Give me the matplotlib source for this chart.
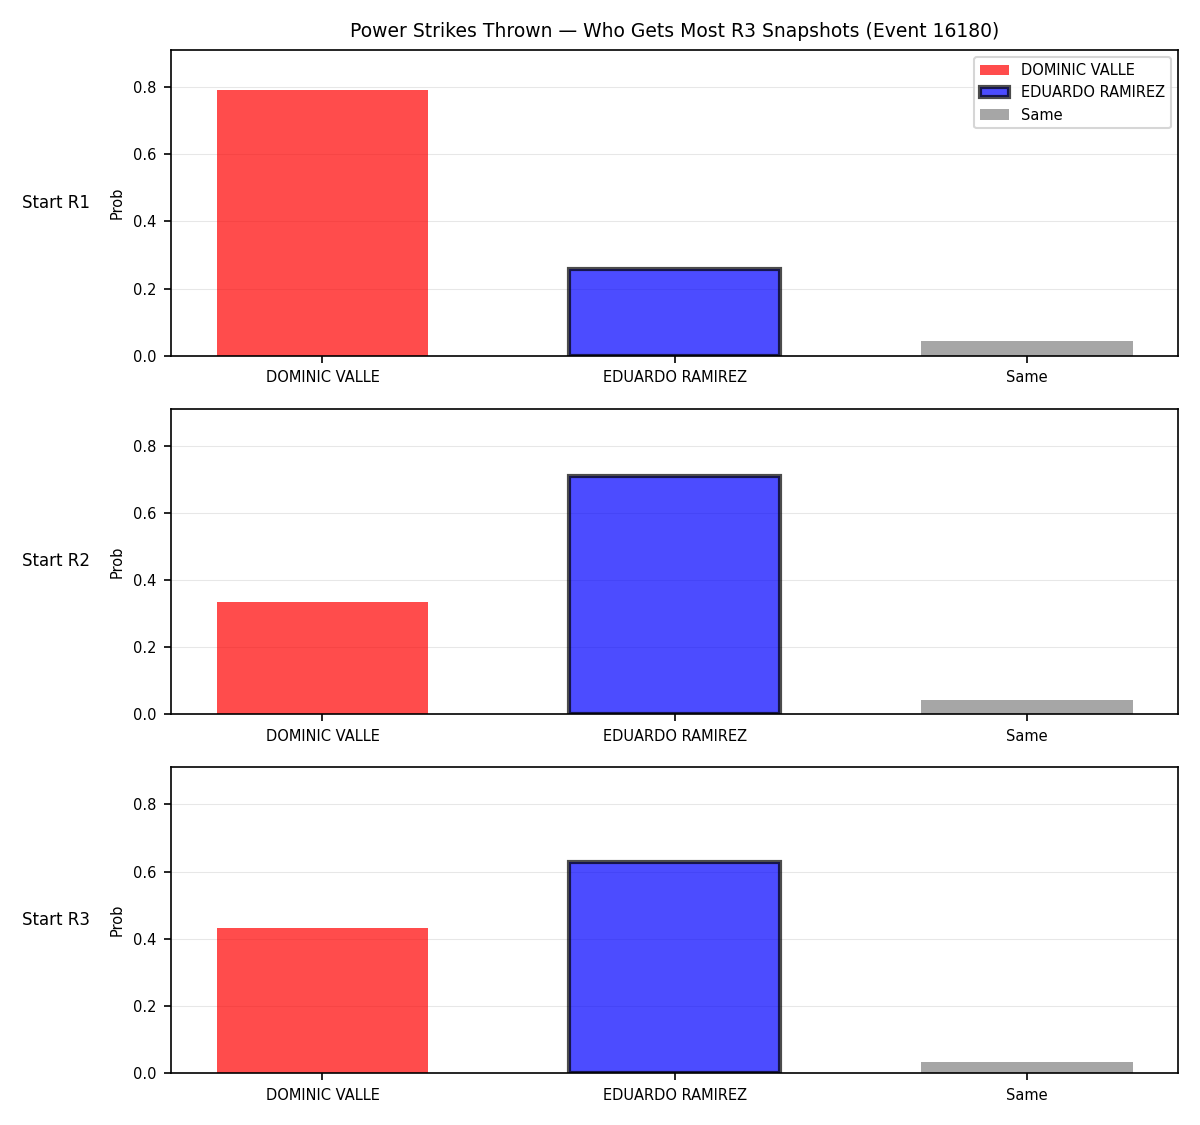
import numpy as np
import matplotlib
matplotlib.use("Agg")
import matplotlib.pyplot as plt

categories = ["DOMINIC VALLE", "EDUARDO RAMIREZ", "Same"]
row_labels = ["Start R1", "Start R2", "Start R3"]
dominic = [0.792, 0.336, 0.432]
eduardo = [0.259, 0.711, 0.630]
same = [0.044, 0.044, 0.034]

colors = ["red", "blue", "gray"]
y_top = max(max(dominic), max(eduardo), max(same)) * 1.15

fig, axes = plt.subplots(3, 1, figsize=(8, 7.5), dpi=150)
fig.subplots_adjust(left=0.1425, right=0.982, top=0.9556, bottom=0.0462, hspace=0.173)

x = np.arange(len(categories))
for i, ax in enumerate(axes):
    vals = [dominic[i], eduardo[i], same[i]]
    bars = ax.bar(x, vals, width=0.6, color=colors, alpha=0.7)
    bars[1].set_edgecolor("black")
    bars[1].set_linewidth(2)
    ax.set_xticks(x)
    ax.set_xticklabels(categories, fontsize=7)
    ax.tick_params(axis="y", labelsize=7)
    ax.set_ylim(0, y_top)
    ax.set_ylabel("Prob", fontsize=7)
    ax.grid(axis="y", alpha=0.3, linewidth=0.5)
    ax.set_axisbelow(True)
    ax.text(-0.08, 0.5, row_labels[i], transform=ax.transAxes,
            ha="right", va="center", fontsize=8)
    if i == 0:
        ax.legend(bars, categories, loc="upper right", fontsize=7)
        ax.set_title("Power Strikes Thrown \u2014 Who Gets Most R3 Snapshots (Event 16180)",
                     fontsize=9)

fig.savefig("out.png", dpi=150)
